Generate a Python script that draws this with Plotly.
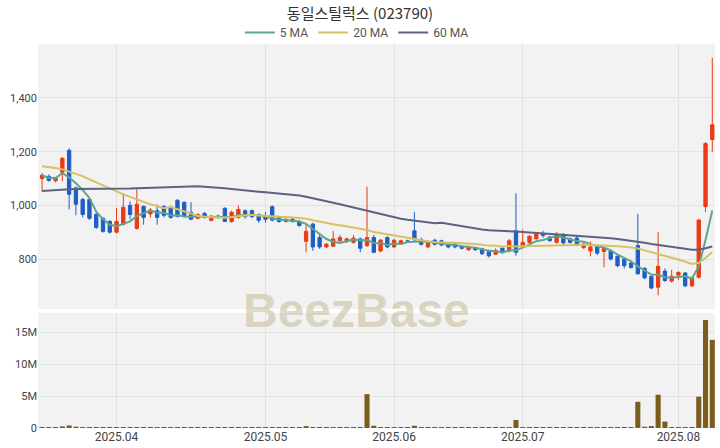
import pandas as pd
import plotly.graph_objects as go

# ---- data ----
holidays = ["2025-05-01", "2025-05-05", "2025-05-06", "2025-06-03", "2025-06-06"]
dates = [d.strftime("%Y-%m-%d") for d in pd.bdate_range("2025-03-17", "2025-08-08")
         if d.strftime("%Y-%m-%d") not in holidays]

opens = [1100, 1108, 1092, 1123, 1205, 1065, 1022, 1022, 966, 952,
         940, 900, 929, 1000, 914, 996, 968, 980, 996, 993,
         1019, 1011, 974, 952, 970, 944, 960, 989, 940, 955,
         980, 980, 966, 958, 995, 955, 940, 948, 940, 866,
         930, 880, 845, 848, 868, 865, 862, 875, 850, 880,
         830, 880, 845, 860, 868, 905, 872, 845, 870, 868,
         855, 855, 848, 835, 840, 838, 830, 818, 840, 830,
         905, 848, 862, 875, 895, 882, 862, 892, 875, 878,
         842, 830, 845, 828, 830, 810, 800, 785, 850, 765,
         735, 695, 755, 718, 740, 748, 700, 732, 995, 1245]
highs = [1120, 1115, 1105, 1180, 1212, 1070, 1028, 1026, 972, 955,
         945, 990, 1045, 1015, 1060, 1000, 990, 1003, 1000, 998,
         1022, 1015, 1012, 970, 975, 962, 965, 993, 980, 1000,
         985, 985, 970, 975, 1000, 960, 952, 955, 945, 930,
         935, 890, 860, 905, 890, 880, 890, 880, 1070, 890,
         875, 885, 875, 872, 872, 975, 880, 865, 875, 872,
         860, 860, 852, 850, 845, 842, 835, 840, 845, 875,
         1045, 910, 888, 896, 905, 886, 900, 896, 880, 885,
         860, 865, 850, 845, 835, 815, 805, 790, 968, 770,
         740, 900, 765, 760, 754, 752, 735, 950, 1235, 1550]
lows = [1052, 1088, 1085, 1090, 985, 963, 955, 945, 912, 898,
        895, 895, 925, 948, 910, 928, 955, 928, 955, 950,
        955, 955, 945, 948, 950, 940, 950, 938, 935, 950,
        950, 952, 935, 935, 940, 935, 936, 935, 920, 825,
        830, 838, 840, 845, 862, 860, 858, 825, 845, 822,
        825, 840, 842, 855, 860, 865, 850, 840, 850, 848,
        840, 840, 835, 830, 830, 815, 805, 815, 820, 825,
        812, 845, 858, 872, 880, 865, 858, 855, 858, 848,
        838, 810, 815, 770, 795, 770, 765, 765, 742, 725,
        688, 665, 715, 712, 722, 695, 695, 728, 975, 1200]
closes = [1112, 1093, 1100, 1175, 1041, 1004, 966, 952, 918, 903,
          900, 940, 993, 966, 1004, 955, 983, 955, 963, 955,
          959, 959, 948, 966, 955, 960, 955, 940, 974, 985,
          958, 958, 944, 948, 945, 940, 948, 940, 925, 903,
          845, 845, 855, 875, 880, 875, 878, 840, 880, 825,
          870, 845, 870, 868, 865, 872, 855, 860, 855, 852,
          845, 845, 840, 845, 835, 820, 812, 832, 825, 868,
          825, 862, 885, 893, 888, 868, 892, 860, 862, 852,
          855, 845, 822, 840, 800, 775, 775, 768, 745, 730,
          692, 773, 720, 736, 750, 700, 730, 945, 1230, 1300]
volumes = [50000, 60000, 50000, 250000, 400000, 200000, 40000, 30000, 30000, 30000,
           20000, 40000, 40000, 20000, 30000, 20000, 20000, 20000, 20000, 20000,
           20000, 20000, 20000, 20000, 20000, 20000, 20000, 20000, 20000, 20000,
           20000, 20000, 20000, 20000, 30000, 20000, 20000, 20000, 30000, 300000,
           150000, 40000, 30000, 30000, 20000, 20000, 20000, 30000, 5300000, 350000,
           60000, 40000, 40000, 30000, 40000, 350000, 50000, 30000, 30000, 40000,
           60000, 30000, 30000, 30000, 30000, 30000, 30000, 30000, 40000, 60000,
           1250000, 60000, 40000, 40000, 30000, 30000, 30000, 30000, 30000, 30000,
           30000, 30000, 30000, 30000, 80000, 60000, 60000, 60000, 4100000, 200000,
           300000, 5200000, 1000000, 150000, 120000, 120000, 150000, 4900000, 16900000, 13800000]

# moving-average values before enough history is visible
ma20_head = [1146, 1143, 1139, 1134, 1126, 1118, 1109, 1097, 1085, 1074,
             1063, 1052, 1041, 1031, 1022, 1013, 1004, 996, 989]
ma60_head = [1053, 1055, 1058, 1060, 1060, 1061, 1061, 1062, 1062, 1062,
             1063, 1063, 1063, 1063, 1064, 1065, 1066, 1066, 1067, 1068,
             1069, 1070, 1071, 1071, 1069, 1068, 1066, 1064, 1061, 1058,
             1056, 1053, 1051, 1049, 1047, 1045, 1043, 1041, 1037, 1032,
             1027, 1022, 1016, 1010, 1004, 998, 991, 985, 979, 972,
             966, 960, 954, 950, 946, 943, 940, 936, 933]

tick_dates = ["2025-04-01", "2025-05-02", "2025-06-02", "2025-07-01", "2025-08-01"]
tick_text = ["2025.04", "2025.05", "2025.06", "2025.07", "2025.08"]
vol_tickvals = [0, 5000000, 10000000, 15000000]
vol_ticktext = ["0", "5M", "10M", "15M"]

# ---- derived series ----
cs = pd.Series(closes, dtype=float)
ma5 = cs.rolling(5, min_periods=1).mean().tolist()
ma20 = cs.rolling(20).mean().tolist()
ma20 = ma20_head + ma20[len(ma20_head):]
ma60 = cs.rolling(60).mean().tolist()
ma60 = ma60_head + ma60[len(ma60_head):]

UP = "#eb3b12"
DOWN = "#1f5ec6"

fig = go.Figure()
fig.add_trace(go.Candlestick(
    x=dates, open=opens, high=highs, low=lows, close=closes,
    increasing=dict(line=dict(color=UP, width=1), fillcolor=UP),
    decreasing=dict(line=dict(color=DOWN, width=1), fillcolor=DOWN),
    whiskerwidth=0, showlegend=False, xaxis="x", yaxis="y", hoverinfo="skip"))
fig.add_trace(go.Scatter(x=dates, y=ma5, mode="lines", name="5 MA",
                         line=dict(color="#5ea590", width=2), xaxis="x", yaxis="y"))
fig.add_trace(go.Scatter(x=dates, y=ma20, mode="lines", name="20 MA",
                         line=dict(color="#d7c065", width=2), xaxis="x", yaxis="y"))
fig.add_trace(go.Scatter(x=dates, y=ma60, mode="lines", name="60 MA",
                         line=dict(color="#5b6382", width=2), xaxis="x", yaxis="y"))
fig.add_trace(go.Bar(x=dates, y=volumes, marker=dict(color="#7b5c1c", line=dict(width=0)),
                     width=0.75, showlegend=False, xaxis="x2", yaxis="y2"))

grid = "#e2e2e2"
axfont = dict(family="Roboto, Noto Sans, sans-serif", size=11, color="#444")
xfont = dict(family="Roboto, Noto Sans, sans-serif", size=12, color="#444")

fig.update_layout(
    width=720, height=448,
    margin=dict(l=38, r=5, t=44, b=20, autoexpand=False),
    paper_bgcolor="white", plot_bgcolor="#f2f2f2",
    title=dict(text="동일스틸럭스 (023790)", x=0.5, xanchor="center", y=0.969, yanchor="middle",
               font=dict(family="Noto Sans CJK KR, Noto Sans, sans-serif", size=15, color="#333")),
    legend=dict(orientation="h", x=0.471, xanchor="center", y=0.992, yanchor="bottom",
                font=dict(family="Roboto, Noto Sans, sans-serif", size=12, color="#555"),
                bgcolor="rgba(0,0,0,0)", itemwidth=30, tracegroupgap=0),
    showlegend=True,
    xaxis=dict(type="category", domain=[0, 1], anchor="y", range=[-0.6, 99.4],
               tickmode="array", tickvals=tick_dates, ticktext=tick_text,
               showticklabels=False, showgrid=True, gridcolor=grid, automargin=False,
               rangeslider=dict(visible=False), zeroline=False, ticks=""),
    yaxis=dict(domain=[0.31, 1], range=[614, 1601], tickvals=[800, 1000, 1200, 1400],
               tickformat=",", showgrid=True, gridcolor=grid, zeroline=False,
               tickfont=axfont, ticks="", automargin=False),
    xaxis2=dict(type="category", domain=[0, 1], anchor="y2", matches="x", range=[-0.6, 99.4],
                tickmode="array", tickvals=tick_dates, ticktext=tick_text, automargin=False,
                showgrid=True, gridcolor=grid, tickfont=xfont, zeroline=False, ticks=""),
    yaxis2=dict(domain=[0, 0.2995], range=[0, 18000000], tickmode="array",
                tickvals=vol_tickvals, ticktext=vol_ticktext, showgrid=True, gridcolor=grid,
                zeroline=False, tickfont=axfont, ticks="", automargin=False),
    bargap=0.2,
    annotations=[dict(text="<b>BeezBase</b>", x=0.471, y=0.307, xref="paper", yref="paper",
                      xanchor="center", yanchor="middle", showarrow=False,
                      font=dict(family="Liberation Sans, Arial, sans-serif", size=48,
                                color="rgba(196,186,146,0.55)"))],
)

# remove the page's default body margin so the 720x448 figure fills the window
fig.write_html("out.html", config={"displayModeBar": False},
               post_script="document.body.style.margin='0px';")
